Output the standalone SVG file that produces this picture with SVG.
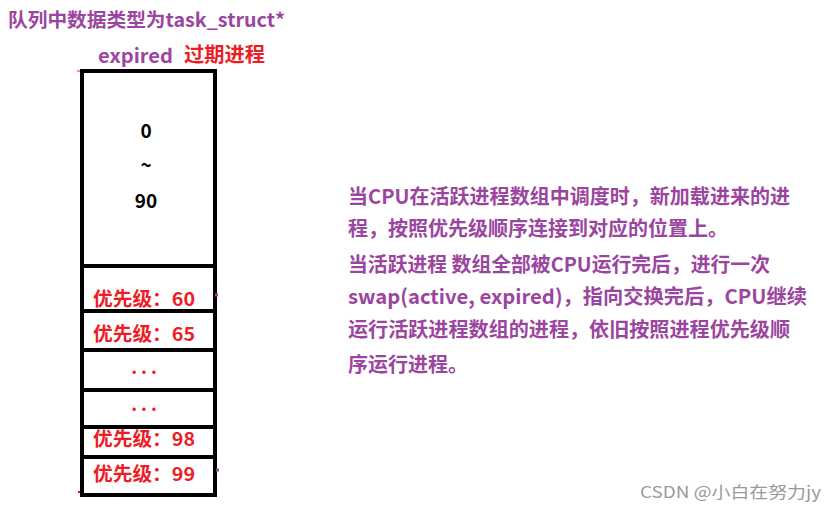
<svg xmlns="http://www.w3.org/2000/svg" width="837" height="512" viewBox="0 0 837 512">
<style>
text{font-family:"Microsoft YaHei","Noto Sans CJK SC","Noto Sans",sans-serif;font-weight:bold}
.p{fill:#9B45A0}
.r{fill:#EE1C25}
.k{fill:#000}
.box{fill:none;stroke:#000;stroke-width:4}
.c{text-anchor:middle}
</style>
<rect width="837" height="512" fill="#fff"/>
<g id="title">
<text class="p" x="8" y="27" font-size="19" textLength="277" lengthAdjust="spacingAndGlyphs">队列中数据类型为task_struct*</text>
</g>
<g id="expired-label">
<text class="p" x="98" y="63" font-size="19" textLength="75" lengthAdjust="spacingAndGlyphs">expired</text>
<text class="r" x="184" y="62" font-size="20" textLength="81" lengthAdjust="spacingAndGlyphs">过期进程</text>
</g>
<g id="queue">
<rect class="box" x="82" y="71" width="133" height="424"/>
<line class="box" x1="82" y1="266" x2="215" y2="266"/>
<line class="box" x1="82" y1="311" x2="215" y2="311"/>
<line class="box" x1="82" y1="350" x2="217" y2="350"/>
<line class="box" x1="82" y1="390" x2="217" y2="390"/>
<line class="box" x1="82" y1="427" x2="217" y2="427"/>
<line class="box" x1="82" y1="457" x2="215" y2="457"/>
<line x1="215" y1="295" x2="218" y2="295" stroke="#9B45A0" stroke-width="3"/>
<line x1="216" y1="470" x2="219" y2="470" stroke="#9B45A0" stroke-width="3"/>
<line x1="77" y1="71" x2="80" y2="71" stroke="#EE1C25" stroke-width="1"/>
<line x1="78" y1="492" x2="80" y2="492" stroke="#EE1C25" stroke-width="2"/>
</g>
<g id="range">
<text class="k c" x="146" y="138" font-size="19">0</text>
<text class="k c" x="146" y="172" font-size="19">~</text>
<text class="k c" x="146" y="208" font-size="19">90</text>
</g>
<g id="prio-60"><text class="r" x="93" y="306" font-size="19" textLength="102" lengthAdjust="spacingAndGlyphs">优先级：60</text></g>
<g id="prio-65"><text class="r" x="93" y="341" font-size="19" textLength="102" lengthAdjust="spacingAndGlyphs">优先级：65</text></g>
<g id="dots-1"><text class="r c" x="146" y="374" font-size="18" letter-spacing="4">...</text></g>
<g id="dots-2"><text class="r c" x="146" y="411" font-size="18" letter-spacing="4">...</text></g>
<g id="prio-98"><text class="r" x="93" y="446" font-size="19" textLength="102" lengthAdjust="spacingAndGlyphs">优先级：98</text></g>
<g id="prio-99"><text class="r" x="93" y="481" font-size="19" textLength="102" lengthAdjust="spacingAndGlyphs">优先级：99</text></g>
<g id="description" font-size="20">
<text class="p" x="348" y="204" textLength="442" lengthAdjust="spacingAndGlyphs">当CPU在活跃进程数组中调度时，新加载进来的进</text>
<text class="p" x="348" y="236">程，按照优先级顺序连接到对应的位置上。</text>
<text class="p" x="348" y="272" textLength="422" lengthAdjust="spacingAndGlyphs">当活跃进程 数组全部被CPU运行完后，进行一次</text>
<text class="p" x="348" y="304" textLength="459" lengthAdjust="spacingAndGlyphs">swap(active, expired)，指向交换完后，CPU继续</text>
<text class="p" x="348" y="337" textLength="442" lengthAdjust="spacingAndGlyphs">运行活跃进程数组的进程，依旧按照进程优先级顺</text>
<text class="p" x="348" y="372">序运行进程。</text>
</g>
<g id="watermark">
<text x="640" y="498" font-size="16" font-weight="normal" fill="#9a9a9a" style="font-weight:normal" textLength="181" lengthAdjust="spacingAndGlyphs">CSDN @小白在努力jy</text>
</g>
</svg>
